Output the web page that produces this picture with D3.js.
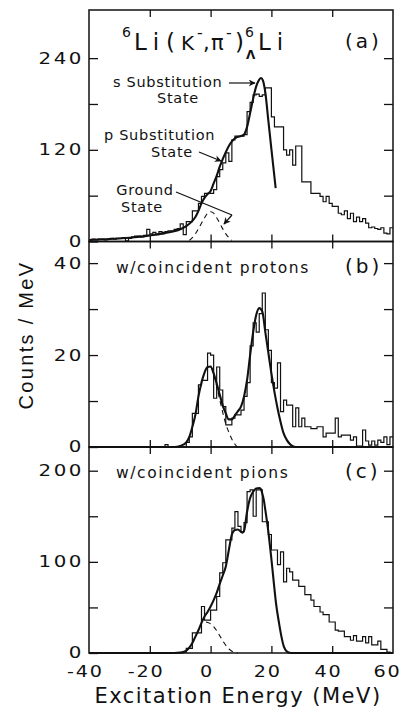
<!DOCTYPE html>
<html>
<head>
<meta charset="utf-8">
<script src="https://cdn.jsdelivr.net/npm/d3@7"></script>
<style>
body { margin: 0; background: #fff; }
text { font-family: "DejaVu Sans", sans-serif; fill: #111; }
</style>
</head>
<body>
<svg id="chart" width="401" height="711"></svg>
<script>
// histogram bins are 1 MeV wide, first bin starts at -40 MeV
var binStart = -40, binWidth = 1;

// (a) inclusive spectrum
var histA = [
  2,3,2,3,3,2,3,4,3,4,          // -40 .. -31
  4,5,1,4,6,7,7,6,8,16,         // -30 .. -21
  10,12,9,13,12,13,14,14,16,17, // -20 .. -11
  23,9,26,26,40,40,50,59,63,63, // -10 .. -1
  63,68,85,94,103,116,105,133,138,138,   // 0 .. 9
  138,140,170,182,192,193,190,192,201,201, // 10 .. 19
  163,150,150,150,120,113,120,100,125,125, // 20 .. 29
  78,78,78,63,63,63,59,52,59,50,  // 30 .. 39
  46,46,37,35,40,30,37,26,32,26,  // 40 .. 49
  30,24,18,19,17,16,18,11,10,18   // 50 .. 59
];
// (b) with coincident protons
var histB = [
  0,0,0,0,0,0,0,0,0,0,
  0,0,0,0,0,0,0,0,0,0,
  0,0,0,0,0,0.5,0,0,0,0,
  0,0,1,2.2,7.3,7.3,13.5,14.5,14.5,20.4,
  20,10.6,17.4,12.4,8.8,4.8,4.8,6.3,7,7,
  8,11,14,22,27,25,29,33.5,25.5,21,
  14,12.8,18.3,7.7,10.2,9.1,9.1,4.4,8.5,4.4,
  6.3,4.4,4.4,4,4,4.4,4.4,2.2,3,3,
  3,6.3,2.2,2.6,2.6,2.6,1.5,2.2,0.2,0.2,
  3.7,1.3,0.4,1.3,0.4,1.5,1,2.2,0.5,2.2
];
// (c) with coincident pions
var histC = [
  0,0,0,0,0,0,0,0,0,0,
  0,0,0,0,0,0,0,0,0,0,
  0,0,0,0,0,0,0,0,0,0,
  0,1,5,5,22,22,22,51,36,36,
  47,47,62,88,99,124,124,137,155,139,
  133,143,177,179,150,179,179,144,144,130,
  113,113,97,111,78,93,89,80,80,73,
  73,64,64,58,51,51,45,42,42,34,
  34,25,24,24,18,18,14,19,13,13,
  18,11,18,9,9,13,4,4,1,0
];

// fitted curves [MeV, counts/MeV]
var fitA = [[-40,2],[-30,4],[-25,5.5],[-20,8],[-15,11],[-10,16],[-8,20],[-6,27],[-5,32],
  [-4,40],[-3,50],[-2,57],[-1,62],[0,66],[1,76],[2,86],[3,98],[4,108],[5,117],[6,125],
  [7,131],[8,135],[9,137],[10,138],[11,140],[12,150],[13,168],[14,187],[15,203],[16,212],
  [16.6,214],[17.2,211],[18,195],[19,158],[20,121],[21.4,70]];
var groundA = [[-7,1.5],[-6,5],[-5,10],[-4,16.5],[-3,24],[-2,31],[-1,37],[0,39],[1,37],
  [2,31],[3,24],[4,16.5],[5,10],[6,5],[7,1.5]];

var fitB = [[-40,0],[-12,0],[-10,0.2],[-9,0.5],[-8,1],[-7,2.2],[-6,4.4],[-5,7],[-4,11],
  [-3,14],[-2,16.2],[-1,17.4],[0,17.5],[1,16],[2,13.8],[3,11.4],[4,9],[5,7.3],[6,6],[7,6],
  [8,6.9],[9,7.8],[10,8.8],[11,11],[12,14.6],[13,20],[14,25],[15,28.7],[16,30.2],[17,29.5],
  [18,25],[19,20.5],[20,16],[21,12],[22,8.5],[23,5.5],[24,3],[25,1.6],[26,0.7],[27,0.2],
  [28,0],[60,0]];
var groundB = [[0,17.5],[1,16],[2,13.2],[3,10.3],[4,7.5],[5,5],[6,3.2],[7,1.7],[8,0.6],[8.8,0]];

var fitC = [[-40,0],[-12,0],[-10,0.5],[-9,1.2],[-8,2.5],[-7,6],[-6,11],[-5,18],[-4,25],
  [-3,33],[-2,40],[-1,45],[0,51],[1,58],[2,66],[3,76],[4,85],[5,95],[6,113],[7,130],
  [8,135],[9,135.5],[10,133],[10.5,132],[11,134],[12,155],[13,170],[14,177],[15,180.5],
  [16,181],[16.5,180],[17,175],[17.5,168],[18,157],[19,133],[20,103],[20.8,77],[21.5,55],
  [22.5,33],[23.3,18],[24.1,7],[25,2],[26,0.3],[27,0],[60,0]];
var groundC = [[-1.5,34],[-1,33.5],[0,32],[1,29],[2,24.5],[3,19],[4,13.5],[5,8.5],[6,4.5],
  [7,2],[8,0.5],[9,0]];

// axes
var energyDomain = [-40, 60];
var xTicks = [-40, -20, 0, 20, 40, 60];
var yTicksA = [0, 60, 120, 180, 240], yLabelsA = [0, 120, 240];
var yTicksB = [0, 10, 20, 30, 40],    yLabelsB = [0, 20, 40];
var yTicksC = [0, 50, 100, 150, 200], yLabelsC = [0, 100, 200];

var svg = d3.select("#chart");
var left = 89, right = 393;
var stretch = 1.28; // the lettering of the tick labels is wide

var x = d3.scaleLinear().domain(energyDomain).range([left, right]);

var defs = svg.append("defs");
defs.append("marker")
  .attr("id", "arrow")
  .attr("viewBox", "0 0 10 10")
  .attr("refX", 9).attr("refY", 5)
  .attr("markerWidth", 7).attr("markerHeight", 7)
  .attr("markerUnits", "userSpaceOnUse")
  .attr("orient", "auto")
  .append("path")
  .attr("d", "M0,0 L10,5 L0,10 L3,5 Z")
  .attr("fill", "#111");

var panels = [
  {top: 10, bottom: 241.5, max: 303, hist: histA, fit: fitA, ground: groundA,
   ticks: yTicksA, labels: yLabelsA, tag: "(a)", tagY: 48},
  {top: 241.5, bottom: 447, max: 44.7, hist: histB, fit: fitB, ground: groundB,
   ticks: yTicksB, labels: yLabelsB, tag: "(b)", tagY: 273, note: "w/coincident protons"},
  {top: 447, bottom: 653, max: 226, hist: histC, fit: fitC, ground: groundC,
   ticks: yTicksC, labels: yLabelsC, tag: "(c)", tagY: 478, note: "w/coincident pions"}
];

panels.forEach(function(p, i) {
  var y = d3.scaleLinear().domain([0, p.max]).range([p.bottom, p.top]);
  var g = svg.append("g");

  // histogram as steps
  var pts = p.hist.map(function(v, k) { return [binStart + k * binWidth, v]; });
  pts.push([binStart + p.hist.length * binWidth, p.hist[p.hist.length - 1]]);
  var step = d3.line()
    .x(function(d) { return x(d[0]); })
    .y(function(d) { return y(d[1]); })
    .curve(d3.curveStepAfter);
  g.append("path")
    .attr("d", step(pts))
    .attr("fill", "none")
    .attr("stroke", "#111")
    .attr("stroke-width", 1.2);

  var smooth = d3.line()
    .x(function(d) { return x(d[0]); })
    .y(function(d) { return y(d[1]); })
    .curve(d3.curveMonotoneX);

  g.append("path")
    .attr("d", smooth(p.ground))
    .attr("fill", "none")
    .attr("stroke", "#111")
    .attr("stroke-width", 1.1)
    .attr("stroke-dasharray", "5,4");

  g.append("path")
    .attr("d", smooth(p.fit))
    .attr("fill", "none")
    .attr("stroke", "#111")
    .attr("stroke-width", 2.1);

  // frame
  g.append("rect")
    .attr("x", left).attr("y", p.top)
    .attr("width", right - left).attr("height", p.bottom - p.top)
    .attr("fill", "none").attr("stroke", "#111").attr("stroke-width", 1.5);

  // y axes, ticks inside
  var yl = g.append("g")
    .attr("transform", "translate(" + left + ",0)")
    .call(d3.axisLeft(y).tickValues(p.ticks).tickSize(-9).tickPadding(5)
      .tickFormat(function(d) { return p.labels.indexOf(d) >= 0 ? d : ""; }));
  var yr = g.append("g")
    .attr("transform", "translate(" + right + ",0)")
    .call(d3.axisRight(y).tickValues(p.ticks.slice(1)).tickSize(-9).tickFormat(""));

  // x ticks, top and bottom, inside
  var inner = xTicks.slice(1, -1);
  var xt = g.append("g")
    .attr("transform", "translate(0," + p.top + ")")
    .call(d3.axisTop(x).tickValues(inner).tickSize(-7).tickFormat(""));
  var xb = g.append("g")
    .attr("transform", "translate(0," + p.bottom + ")");
  if (i == 2) {
    xb.call(d3.axisBottom(x).tickValues(xTicks).tickSize(-7).tickPadding(13)
      .tickFormat(function(d) { return d < 0 ? "-" + (-d) : "" + d; }));
    xb.selectAll(".tick line").filter(function(d) { return d == -40 || d == 60; }).remove();
  } else {
    xb.call(d3.axisBottom(x).tickValues(inner).tickSize(-7).tickFormat(""));
  }

  [yl, yr, xt, xb].forEach(function(a) {
    a.select(".domain").remove();
    a.selectAll(".tick line").attr("stroke", "#111").attr("stroke-width", 1.3);
  });
  yl.selectAll("text")
    .attr("x", -5 / stretch)
    .attr("transform", "scale(" + stretch + ",1)")
    .attr("font-family", "DejaVu Sans")
    .attr("font-size", 15.5)
    .attr("letter-spacing", 2)
    .attr("fill", "#111");
  xb.selectAll("text")
    .attr("x", -3.5)
    .attr("transform", "scale(1.2,1)")
    .attr("font-family", "DejaVu Sans")
    .attr("font-size", 16)
    .attr("letter-spacing", 1.5)
    .attr("fill", "#111");
  xb.selectAll(".tick").filter(function(d) { return d == 60; })
    .select("text").attr("x", -5);

  g.append("text")
    .attr("x", 345).attr("y", p.tagY)
    .attr("font-size", 20)
    .attr("letter-spacing", 3)
    .text(p.tag);

  if (p.note) {
    g.append("text")
      .attr("x", 116).attr("y", p.tagY)
      .attr("font-size", 15.5)
      .attr("letter-spacing", 1.6)
      .text(p.note);
  }
});

// reaction title of panel (a)
var title = svg.append("g");
function piece(tx, ty, size, str, weight, spacing) {
  title.append("text")
    .attr("x", tx).attr("y", ty)
    .attr("font-size", size)
    .attr("font-weight", weight || "normal")
    .attr("letter-spacing", spacing || 0)
    .text(str);
}
piece(122, 37, 14, "6");
piece(134, 50, 23, "Li", null, 6);
piece(166, 50, 23, "(");
piece(181, 50, 20, "K");
piece(197, 38, 16, "-");
piece(203, 50, 21, ",");
piece(211, 50, 21, "\u03c0");
piece(226, 38, 16, "-");
piece(235, 50, 23, ")");
piece(245, 37, 14, "6");
piece(246, 59, 12, "\u039b", "bold");
piece(258, 50, 23, "Li", null, 6);

// annotations of panel (a)
var notes = svg.append("g");
function note(tx, ty, str, anchor) {
  notes.append("text")
    .attr("x", tx).attr("y", ty)
    .attr("text-anchor", anchor || "start")
    .attr("font-size", 14.5)
    .attr("letter-spacing", 0.7)
    .text(str);
}
note(113, 87, "s Substitution");
note(178, 103, "State", "middle");
note(104, 140, "p Substitution");
note(172, 157, "State", "middle");
note(145, 195, "Ground", "middle");
note(142, 212, "State", "middle");

function arrow(pts, head) {
  svg.append("path")
    .attr("d", d3.line()(pts))
    .attr("fill", "none")
    .attr("stroke", "#111")
    .attr("stroke-width", 1.2)
    .attr("marker-end", head ? "url(#arrow)" : null);
}
arrow([[229, 83], [255, 83]], true);
arrow([[199, 152], [221, 161]], true);
arrow([[176, 192], [232, 215]], false);
arrow([[232, 215], [224, 224]], true);

// axis titles
svg.append("text")
  .attr("transform", "translate(33,335) rotate(-90)")
  .attr("text-anchor", "middle")
  .style("font-family", "Liberation Sans")
  .attr("font-size", 20)
  .attr("letter-spacing", 2.3)
  .text("Counts / MeV");

svg.append("text")
  .attr("x", 238).attr("y", 703)
  .attr("text-anchor", "middle")
  .attr("font-size", 21)
  .attr("letter-spacing", 1.5)
  .text("Excitation Energy (MeV)");
</script>
</body>
</html>
